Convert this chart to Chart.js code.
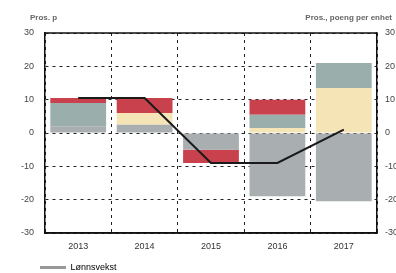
<!DOCTYPE html>
<html>
<head>
<meta charset="utf-8">
<script src="https://cdn.jsdelivr.net/npm/chart.js@4"></script>
<style>
  html, body { margin: 0; padding: 0; background: #fff; overflow: hidden; }
  #wrap { width: 410px; height: 282px; }
</style>
</head>
<body>
<div id="wrap"><canvas id="chart" width="410" height="282"></canvas></div>
<script>
const years = ['2013', '2014', '2015', '2016', '2017'];
const tickValues = [-30, -20, -10, 0, 10, 20, 30];

// stacked components (percentage points)
const greyPart   = [2, 2.5, -5, -19, -20.5];
const yellowPart = [0, 3.5, 0, 1.5, 13.5];
const tealPart   = [7, 0, 0, 4, 7.5];
const redPart    = [1.5, 4.5, -4, 4.5, 0];
// line
const wageGrowth = [10.5, 10.5, -9, -9, 1];

const leftTitle = 'Pros. p';
const rightTitle = 'Pros., poeng per enhet';
const legendText = 'Lønnsvekst';

const tickFont = { family: 'Liberation Sans', size: 9 };

const framePlugin = {
    id: 'frame',
    afterLayout(chart) {
        // legend starts under the plot, not at the canvas edge
        chart.legend.left += 32;
    },
    afterDatasetsDraw(chart) {
        const { ctx, chartArea: a } = chart;
        ctx.save();
        ctx.strokeStyle = '#111';
        ctx.lineWidth = 1.5;
        ctx.beginPath();
        ctx.moveTo(a.left, a.top);
        ctx.lineTo(a.right, a.top);
        ctx.moveTo(a.left, a.bottom);
        ctx.lineTo(a.right, a.bottom);
        ctx.stroke();
        ctx.restore();
    },
    afterDraw(chart) {
        const { ctx } = chart;
        ctx.save();
        ctx.fillStyle = '#666';
        ctx.font = 'bold 8px "Liberation Sans"';
        ctx.textBaseline = 'middle';
        ctx.textAlign = 'left';
        ctx.fillText(leftTitle, 30, 18);
        ctx.textAlign = 'right';
        ctx.fillText(rightTitle, 392, 18);
        ctx.restore();
    }
};

const barDefaults = { stack: 's', barPercentage: 0.84, categoryPercentage: 1, borderWidth: 0 };

new Chart(document.getElementById('chart').getContext('2d'), {
    type: 'bar',
    data: {
        labels: years,
        datasets: [
            { type: 'line', label: legendText, data: wageGrowth, borderColor: '#1a1a1a', borderWidth: 2,
              pointRadius: 0, fill: false, tension: 0, order: 0 },
            Object.assign({ label: 'grey', data: greyPart, backgroundColor: '#a9aeb0', order: 1 }, barDefaults),
            Object.assign({ label: 'yellow', data: yellowPart, backgroundColor: '#f4e4b6', order: 1 }, barDefaults),
            Object.assign({ label: 'teal', data: tealPart, backgroundColor: '#9aafab', order: 1 }, barDefaults),
            Object.assign({ label: 'red', data: redPart, backgroundColor: '#c8414c', order: 1 }, barDefaults)
        ]
    },
    options: {
        responsive: false,
        animation: false,
        layout: { padding: { top: 33, left: 0, right: 0, bottom: 0 } },
        scales: {
            x: {
                stacked: true,
                grid: { offset: true, color: '#222', lineWidth: 1, drawTicks: false },
                border: { display: true, color: '#111', width: 1.5, dash: [3, 4] },
                ticks: { font: tickFont, color: '#333', padding: 8 },
                afterFit(scale) { scale.height = 22; }
            },
            y: {
                stacked: true,
                min: -30, max: 30,
                afterBuildTicks(scale) { scale.ticks = tickValues.map(v => ({ value: v })); },
                grid: { color: '#222', lineWidth: 1, drawTicks: false },
                border: { display: true, color: '#111', width: 1.5, dash: [3, 4] },
                ticks: { font: tickFont, color: '#444', padding: 11 },
                afterFit(scale) { scale.width = 45; }
            },
            y2: {
                position: 'right',
                min: -30, max: 30,
                afterBuildTicks(scale) { scale.ticks = tickValues.map(v => ({ value: v })); },
                grid: { display: false, drawTicks: false },
                border: { display: true, color: '#111', width: 1.5 },
                ticks: { font: tickFont, color: '#444', padding: 8 },
                afterFit(scale) { scale.width = 33; }
            }
        },
        plugins: {
            tooltip: { enabled: false },
            legend: {
                position: 'bottom',
                align: 'start',
                labels: {
                    font: { family: 'Liberation Sans', size: 9 },
                    color: '#555',
                    usePointStyle: true,
                    pointStyleWidth: 26,
                    boxHeight: 8,
                    padding: 8,
                    generateLabels() {
                        return [{ text: legendText, fillStyle: '#999', strokeStyle: '#999', lineWidth: 3,
                                  pointStyle: 'line', datasetIndex: 0, hidden: false }];
                    }
                }
            }
        }
    },
    plugins: [framePlugin]
});
</script>
</body>
</html>
